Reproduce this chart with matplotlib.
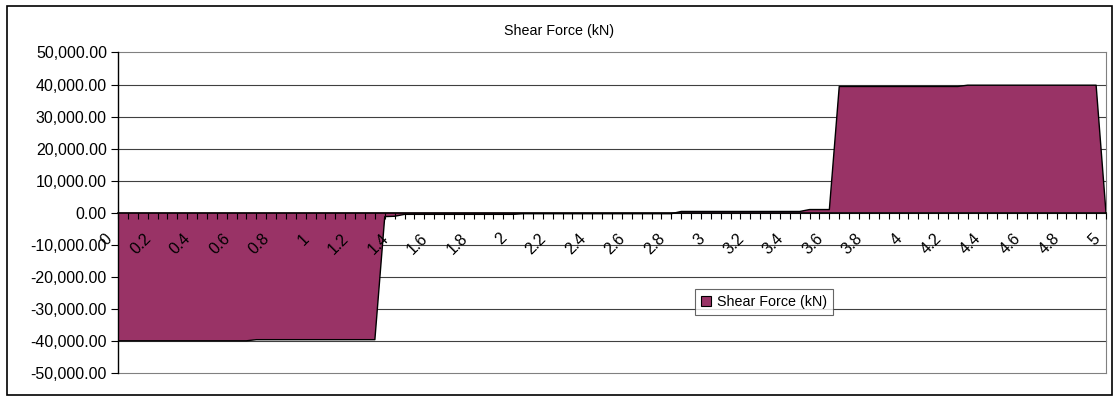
import numpy as np
import matplotlib.pyplot as plt
import matplotlib.transforms as mtransforms
from matplotlib.patches import Rectangle

plt.rcParams['font.family'] = ['Liberation Sans', 'DejaVu Sans']

# beam positions (m), one category every 0.05
positions = [round(i * 0.05, 2) for i in range(101)]

# shear force at each position (kN)
shear = ([-39950] * 14 + [-39600] * 13 + [-1200, -1100]
         + [-500] * 12 + [-300] * 16 + [400] * 13 + [1000] * 3
         + [39400] * 13 + [39800] * 14 + [0])

y_ticks = [-50000, -40000, -30000, -20000, -10000, 0, 10000, 20000, 30000, 40000, 50000]

fig = plt.figure(figsize=(11.19, 4.01), dpi=100)
fig.patches.append(Rectangle((7 / 1119, 6 / 401), 1105 / 1119, 389 / 401,
                             transform=fig.transFigure, fill=False,
                             edgecolor='black', linewidth=1.2))

ax = fig.add_axes([118 / 1119, 1 - 373 / 401, 988 / 1119, 320.5 / 401])
idx = np.arange(len(positions))

# horizontal gridlines sit under the area
for v in y_ticks:
    ax.axhline(v, color='#404040' if abs(v) < 50000 else '#808080',
               linewidth=0.8, zorder=1, clip_on=False)

# area under the shear curve
area = ax.fill_between(idx, shear, 0, facecolor='#993366', edgecolor='none',
                       label='Shear Force (kN)', zorder=2)
ax.plot(idx, shear, color='black', linewidth=1.0, zorder=3)

ax.set_xlim(0, len(positions) - 1)
ax.set_ylim(-50000, 50000)

# value axis
ax.set_yticks(y_ticks)
ax.set_yticklabels(['{:,.2f}'.format(v) for v in y_ticks], fontsize=11.5)
ax.tick_params(axis='y', direction='out', length=5, width=0.8, pad=3)

# category axis crossing at zero
ax.spines['bottom'].set_position(('data', 0))
ax.spines['bottom'].set_linewidth(1.2)
ax.spines['bottom'].set_zorder(4)
ax.spines['top'].set_visible(False)
ax.spines['right'].set_color('#808080')
ax.spines['left'].set_linewidth(1.0)
ax.set_xticks(idx)
ax.set_xticklabels(['%g' % p if i % 4 == 0 else '' for i, p in enumerate(positions)],
                   rotation=45, ha='right', rotation_mode='anchor', fontsize=11.5)
ax.tick_params(axis='x', direction='out', length=4, width=0.8, pad=9)
shift = mtransforms.ScaledTranslation(-14 / 100, 0, fig.dpi_scale_trans)
for lbl in ax.get_xticklabels():
    lbl.set_transform(lbl.get_transform() + shift)
ax.xaxis.set_zorder(5)

fig.text(0.5, 1 - 31 / 401, 'Shear Force (kN)', ha='center', va='center', fontsize=10.3)

leg = ax.legend(handles=[area], loc='center', bbox_to_anchor=(0.654, 0.222),
                fontsize=10.3, frameon=True, fancybox=False, borderpad=0.4,
                handlelength=0.7, handleheight=0.7, handletextpad=0.4)
leg.get_frame().set_edgecolor('#404040')
leg.get_frame().set_linewidth(0.8)
leg.legend_handles[0].set_edgecolor('black')
leg.legend_handles[0].set_linewidth(0.8)

fig.savefig('out.png', dpi=100)
